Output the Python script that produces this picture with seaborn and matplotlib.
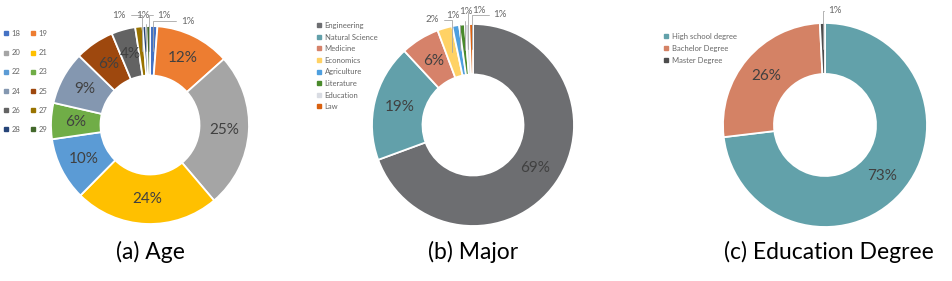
import numpy as np
import matplotlib
matplotlib.use('Agg')
import matplotlib.pyplot as plt
import seaborn as sns
from matplotlib.lines import Line2D

# --- data (percent shares) ---
age_labels = ['18', '19', '20', '21', '22', '23', '24', '25', '26', '27', '28', '29']
age_pct = [1.2, 12.2, 25.4, 23.6, 10.3, 5.9, 8.7, 6.4, 3.9, 1.2, 0.6, 0.6]
age_colors = ['#4472C4', '#ED7D31', '#A5A5A5', '#FFC000', '#5B9BD5', '#70AD47',
              '#8497B0', '#9E480E', '#636363', '#997300', '#264478', '#43682B']

major_labels = ['Engineering', 'Natural Science', 'Medicine', 'Economics',
                'Agriculture', 'Literature', 'Education', 'Law']
major_pct = [69.4, 18.7, 6.2, 2.4, 1.1, 0.9, 0.7, 0.6]
major_colors = ['#6D6E71', '#62A0AA', '#D6826A', '#FFD265', '#4E9FDF',
                '#4A8A2C', '#D9DCE3', '#D9600F']

edu_labels = ['High school degree', 'Bachelor Degree', 'Master Degree']
edu_pct = [73.1, 26.1, 0.8]
edu_colors = ['#62A1AA', '#D48265', '#4D4D4D']

titles = ['(a) Age', '(b) Major', '(c) Education Degree']

sns.set_theme(style='white')
plt.rcParams['font.family'] = ['Lato', 'DejaVu Sans']

W, H = 952, 281
fig = plt.figure(figsize=(W / 100, H / 100), dpi=100)

DARK = '#404040'
GREY = '#666666'


def add_donut(cx, cy, R, values, colors, outside_pos):
    ax = fig.add_axes([(cx - R) / W, 1 - (cy + R) / H, 2 * R / W, 2 * R / H])
    wedges, _ = ax.pie(values, colors=colors, startangle=90, counterclock=False,
                       radius=1, wedgeprops=dict(width=0.5, edgecolor='white', linewidth=1.3))
    ax.set_xlim(-1, 1)
    ax.set_ylim(-1, 1)
    ax.set_axis_off()
    small = iter(outside_pos)
    for w, v in zip(wedges, values):
        mid = np.deg2rad((w.theta1 + w.theta2) / 2)
        lab = f"{max(1, round(v))}%"
        if v >= 3:
            ax.text(0.75 * np.cos(mid), 0.75 * np.sin(mid), lab, ha='center', va='center',
                    fontsize=11, color=DARK)
        else:
            tx, ty = next(small)
            ax.annotate(lab, xy=(0.75 * np.cos(mid), 0.75 * np.sin(mid)), xytext=(tx, ty),
                        ha='center', va='center', fontsize=7, color=GREY,
                        annotation_clip=False,
                        arrowprops=dict(arrowstyle='-', color='#A6A6A6', lw=0.6,
                                        shrinkA=1, shrinkB=0, relpos=(0, 0.5),
                                        connectionstyle='angle,angleA=180,angleB=90,rad=0'))
    return ax, wedges


def add_legend(ax, labels, colors, x, y, ncol=1, spacing=0.6):
    handles = [Line2D([], [], marker='s', linestyle='', markersize=2.2, color=c) for c in colors]
    if ncol == 2:
        handles = handles[0::2] + handles[1::2]
        labels = labels[0::2] + labels[1::2]
    ax.legend(handles, labels, loc='upper left', bbox_to_anchor=(x / W, 1 - y / H),
              bbox_transform=fig.transFigure, frameon=False, ncol=ncol, fontsize=5.5,
              labelcolor=GREY, handlelength=0.6, handletextpad=0.4, borderpad=0,
              borderaxespad=0, labelspacing=spacing, columnspacing=1.4)


# (a) Age: small labels for 18 first, then 27, 28, 29 in draw order
ax1, _ = add_donut(150, 125, 99, age_pct, age_colors,
                   [(0.38, 1.05), (-0.31, 1.11), (-0.07, 1.11), (0.14, 1.11)])
add_legend(ax1, age_labels, age_colors, 4, 30, ncol=2, spacing=1.6)

ax2, _ = add_donut(473, 125, 101, major_pct, major_colors,
                   [(-0.40, 1.04), (-0.20, 1.08), (-0.07, 1.12), (0.06, 1.13), (0.27, 1.09)])
add_legend(ax2, major_labels, major_colors, 317, 22, spacing=0.6)

ax3, _ = add_donut(825, 125, 102, edu_pct, edu_colors, [(0.10, 1.12)])
add_legend(ax3, edu_labels, edu_colors, 664, 33, spacing=0.65)

for cx, t in zip([150, 473, 829], titles):
    fig.text(cx / W, 1 - 252 / H, t, ha='center', va='center', fontsize=16.5, color='black')

fig.savefig('out.png', dpi=100)
plt.close(fig)
